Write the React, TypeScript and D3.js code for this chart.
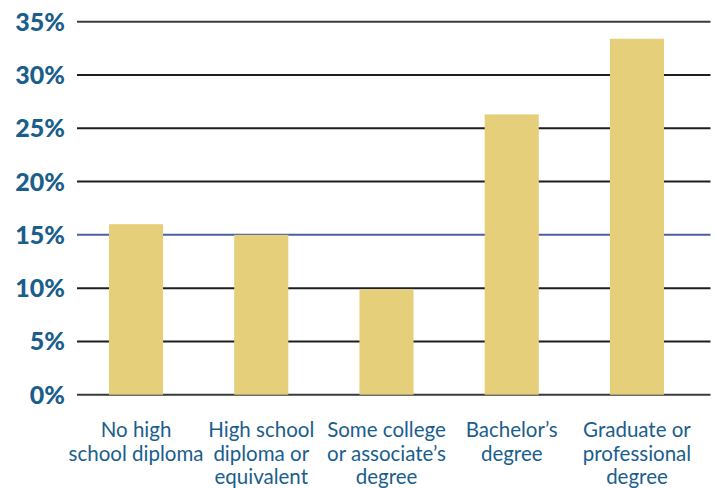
import React from "react";
import * as d3 from "d3";

const categories: string[][] = [
  ["No high", "school diploma"],
  ["High school", "diploma or", "equivalent"],
  ["Some college", "or associate\u2019s", "degree"],
  ["Bachelor\u2019s", "degree"],
  ["Graduate or", "professional", "degree"],
];
const values: number[] = [16.0, 15.0, 9.9, 26.3, 33.4];
const yTicks: number[] = [0, 5, 10, 15, 20, 25, 30, 35];

const W = 717;
const H = 488;

export default function App() {
  const x = d3
    .scaleBand<number>()
    .domain(d3.range(values.length))
    .range([73.4, 699.6])
    .paddingInner(0.568)
    .paddingOuter(0.284);
  const y = d3.scaleLinear().domain([0, 35]).range([394.7, 21.7]);
  const textColor = "#1a5e8c";
  return (
    <svg
      width={W}
      height={H}
      style={{ position: "absolute", left: 0, top: 0, background: "#fff" }}
    >
      {yTicks.map((t) => (
        <g key={t}>
          <line
            x1={77}
            x2={710.5}
            y1={y(t)}
            y2={y(t)}
            stroke={t === 15 ? "#4a5fa0" : t === 35 || t === 0 ? "#3a3a3a" : "#1e1e1e"}
            strokeWidth={2}
          />
          <text
            x={65}
            y={y(t)}
            dy="0.36em"
            textAnchor="end"
            fontFamily="Lato, 'Noto Sans', sans-serif"
            fontWeight={900}
            fontSize={25}
            fill={textColor}
          >
            {t}%
          </text>
        </g>
      ))}
      {values.map((v, i) => (
        <rect
          key={i}
          x={x(i)}
          y={y(v)}
          width={x.bandwidth()}
          height={y(0) - y(v)}
          fill="#e6cf7a"
        />
      ))}
      {categories.map((lines, i) => (
        <text
          key={i}
          textAnchor="middle"
          fontFamily="Lato, 'Noto Sans', sans-serif"
          fontSize={20.5}
          fill={textColor}
        >
          {lines.map((l, j) => (
            <tspan key={j} x={(x(i) as number) + x.bandwidth() / 2} y={437 + j * 23.5}>
              {l}
            </tspan>
          ))}
        </text>
      ))}
    </svg>
  );
}
